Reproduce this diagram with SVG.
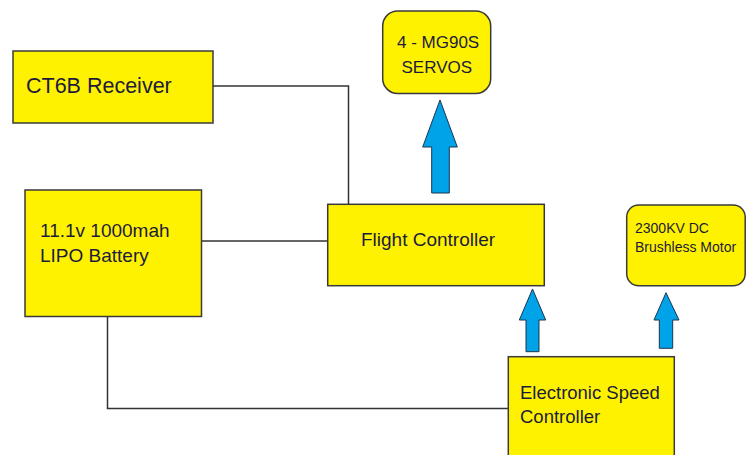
<svg xmlns="http://www.w3.org/2000/svg" width="747" height="455" viewBox="0 0 747 455">
<defs>
<style>
.box{fill:#FFF200;stroke:#3a3a3a;stroke-width:1.5}
.wire{fill:none;stroke:#333333;stroke-width:1.5}
.arrow{fill:#00A2E8;stroke:#1b3550;stroke-width:1}
text{font-family:"Liberation Sans",Arial,sans-serif;fill:#1c1c3a}
</style>
</defs>
<rect width="747" height="455" fill="#ffffff"/>
<g id="connectors">
<polyline class="wire" points="213,86 348.5,86 348.5,204.5"/>
<line class="wire" x1="201.5" y1="241" x2="327.5" y2="241"/>
<polyline class="wire" points="107.5,316.5 107.5,408.5 508.5,408.5"/>
<polygon class="arrow" points="440,100 457.3,147 449.3,147 449.3,193 431.7,193 431.7,147 422.7,147"/>
<polygon class="arrow" points="532.5,289 545.7,320 539,320 539,351.7 526,351.7 526,320 519.3,320"/>
<polygon class="arrow" points="666,292.7 679,320 672.7,320 672.7,348.3 659.3,348.3 659.3,320 654,320"/>
</g>
<g id="receiver">
<rect class="box" x="13" y="51" width="200" height="72"/>
<text x="26" y="93" font-size="21.5">CT6B Receiver</text>
</g>
<g id="servos">
<rect class="box" x="382.7" y="11" width="108" height="82.5" rx="15" ry="15"/>
<text x="397" y="48" font-size="17">4 - MG90S</text>
<text x="401.5" y="73" font-size="17">SERVOS</text>
</g>
<g id="battery">
<rect class="box" x="25" y="190" width="176.5" height="126.5"/>
<text x="40" y="236.5" font-size="19">11.1v 1000mah</text>
<text x="40" y="262" font-size="19">LIPO Battery</text>
</g>
<g id="flight-controller">
<rect class="box" x="327.7" y="204.3" width="216.6" height="81.4"/>
<text x="361" y="246" font-size="19">Flight Controller</text>
</g>
<g id="motor">
<rect class="box" x="626.7" y="205" width="118.5" height="80.7" rx="12" ry="12"/>
<text x="635" y="233" font-size="14">2300KV DC</text>
<text x="635" y="251.5" font-size="14">Brushless Motor</text>
</g>
<g id="esc">
<rect class="box" x="508.3" y="356.7" width="166" height="110"/>
<text x="520" y="399.3" font-size="18.5">Electronic Speed</text>
<text x="520" y="423.3" font-size="18.5">Controller</text>
</g>
</svg>
